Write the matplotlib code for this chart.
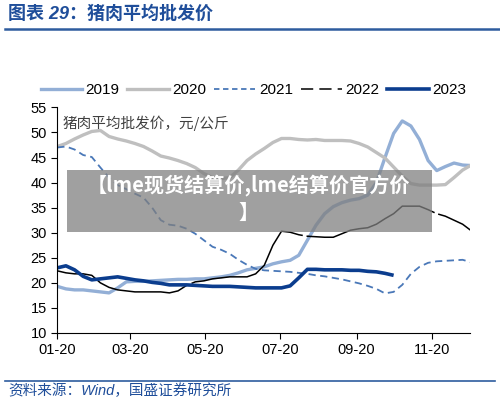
import numpy as np
import pandas as pd
import matplotlib
matplotlib.use("Agg")
import matplotlib.pyplot as plt
import matplotlib.dates as mdates
from matplotlib.lines import Line2D
from matplotlib.patches import Rectangle

plt.rcParams["font.family"] = ["Liberation Sans", "Noto Sans CJK SC", "DejaVu Sans"]

# weekly wholesale pork price, yuan/kg
weeks = pd.date_range("2023-01-20", periods=49, freq="7D")

p2019 = [19.3, 18.8, 18.6, 18.6, 18.4, 18.2, 18.0, 19.0, 20.2, 20.3, 20.3, 20.4, 20.5,
         20.6, 20.7, 20.7, 20.8, 20.8, 21.0, 21.2, 21.5, 22.0, 22.6, 22.9, 23.2, 23.8,
         24.2, 24.5, 25.5, 28.5, 31.5, 33.8, 35.2, 36.0, 36.5, 36.8, 37.5, 40.0, 45.0,
         49.8, 52.3, 51.3, 48.6, 44.4, 42.4, 43.2, 43.9, 43.5, 43.4]
p2020 = [47.2, 47.8, 48.7, 49.5, 50.2, 50.4, 49.2, 48.7, 48.3, 47.8, 47.2, 46.3, 45.3,
         44.9, 44.4, 43.8, 43.0, 41.8, 41.0, 40.8, 41.0, 42.5, 44.4, 45.7, 46.8, 48.0,
         48.8, 48.8, 48.6, 48.5, 48.6, 48.4, 48.4, 48.4, 48.3, 47.8, 47.1, 46.0, 44.9,
         43.1, 41.3, 39.8, 39.5, 39.5, 39.5, 39.6, 41.0, 42.5, 43.5]
p2021 = [47.0, 47.2, 46.6, 45.5, 45.1, 43.0, 41.0, 39.5, 38.7, 37.8, 37.0, 35.0, 32.5,
         31.6, 31.4, 30.8, 29.8, 28.5, 27.2, 26.6, 25.8, 24.6, 23.6, 22.8, 22.5, 22.4,
         22.3, 22.2, 22.0, 21.8, 21.5, 21.3, 21.0, 20.7, 20.3, 19.9, 19.4, 18.8, 17.9,
         18.2, 19.6, 21.8, 23.2, 24.0, 24.3, 24.4, 24.5, 24.6, 24.1]
p2022 = [22.4, 22.0, 21.8, 21.8, 21.5, 20.0, 19.1, 18.6, 18.4, 18.2, 18.2, 18.2, 18.2,
         18.0, 18.4, 19.5, 20.2, 20.4, 20.8, 21.0, 21.2, 21.2, 21.2, 21.8, 23.5, 27.5,
         30.3, 30.1, 29.6, 29.3, 29.2, 29.1, 29.1, 29.8, 30.5, 30.8, 31.0, 31.7, 32.8,
         33.8, 35.3, 35.3, 35.3, 34.6, 33.8, 33.3, 32.5, 31.7, 30.4]
p2023 = [23.0, 23.4, 22.6, 21.3, 20.6, 20.8, 21.0, 21.2, 20.9, 20.6, 20.4, 20.1, 19.9,
         19.6, 19.6, 19.6, 19.5, 19.4, 19.3, 19.3, 19.3, 19.2, 19.1, 19.0, 19.0, 19.0,
         19.0, 19.4, 21.0, 22.7, 22.7, 22.6, 22.6, 22.6, 22.5, 22.5, 22.3, 22.2, 21.9,
         21.5]

years = ["2019", "2020", "2021", "2022", "2023"]
tick_dates = ["2023-01-20", "2023-03-20", "2023-05-20", "2023-07-20", "2023-09-20", "2023-11-20"]

c2019 = "#93AFD6"
c2020 = "#BFBFBF"
c2021 = "#4A78B8"
c2022 = "#000000"
c2023 = "#0B3D8E"
title_blue = "#1F4E9A"
latin_cjk = ["Liberation Sans", "Noto Sans CJK SC"]

fig = plt.figure(figsize=(5, 4.03), dpi=100)
ax = fig.add_axes([0.1146, 0.1737, 0.8254, 0.5598])

ax.plot(weeks, p2019, color=c2019, lw=2.4, solid_capstyle="butt")
ax.plot(weeks, p2020, color=c2020, lw=2.4, solid_capstyle="butt")
ax.plot(weeks, p2021, color=c2021, lw=1.3, dashes=(4, 2.5))
ax.plot(weeks, p2022, color=c2022, lw=1.1, dashes=(90, 2.5))
ax.plot(weeks[:len(p2023)], p2023, color=c2023, lw=2.6, solid_capstyle="butt")

ax.set_ylim(10, 55)
ax.set_yticks(range(10, 56, 5))
ax.set_xlim(pd.Timestamp("2023-01-20"), pd.Timestamp("2023-12-21"))
ax.set_xticks(pd.to_datetime(tick_dates))
ax.xaxis.set_major_formatter(mdates.DateFormatter("%m-%d"))
ax.tick_params(labelsize=10.5, length=4, width=0.8, direction="out")
for side in ["top", "right"]:
    ax.spines[side].set_visible(False)
for side in ["left", "bottom"]:
    ax.spines[side].set_linewidth(0.8)

ax.text(0.012, 0.965, "猪肉平均批发价，元/公斤", transform=ax.transAxes,
        fontsize=10.5, color="#404040", va="top", family=["Noto Sans CJK SC"])

handles = [
    Line2D([], [], color=c2019, lw=2.4),
    Line2D([], [], color=c2020, lw=2.4),
    Line2D([], [], color=c2021, lw=1.3, dashes=(3, 2)),
    Line2D([], [], color=c2022, lw=1.1, dashes=(8, 4)),
    Line2D([], [], color=c2023, lw=2.6),
]
fig.legend(handles, years, loc="center", bbox_to_anchor=(0.507, 0.777), ncol=5,
           frameon=False, fontsize=11, handlelength=2.7, handletextpad=0.25,
           columnspacing=0.5)

# header and footer
fig.text(0.016, 0.965, "图表 29：猪肉平均批发价", fontsize=13, fontweight="bold",
         style="italic", color=title_blue, va="center", family=latin_cjk)
fig.add_artist(Line2D([0.01, 1.0], [0.929, 0.929], color="#2E5C9E", lw=1.8))
fig.add_artist(Line2D([0.01, 0.99], [0.054, 0.054], color="#2E5C9E", lw=1.2))
fig.text(0.016, 0.030, "资料来源：Wind，国盛证券研究所", fontsize=10.5, style="italic",
         color=title_blue, va="center", family=latin_cjk)

# overlay banner
fig.add_artist(Rectangle((0.134, 1 - 232 / 403), 0.73, 62 / 403, transform=fig.transFigure,
                         facecolor="#808080", alpha=0.75, edgecolor="none"))
fig.text(0.497, 1 - 199 / 403, "【lme现货结算价,lme结算价官方价\n】", fontsize=14.5,
         fontweight="bold", color="white", ha="center", va="center", linespacing=1.25,
         family=["Noto Sans CJK SC"])

fig.savefig("out.png", dpi=100)
